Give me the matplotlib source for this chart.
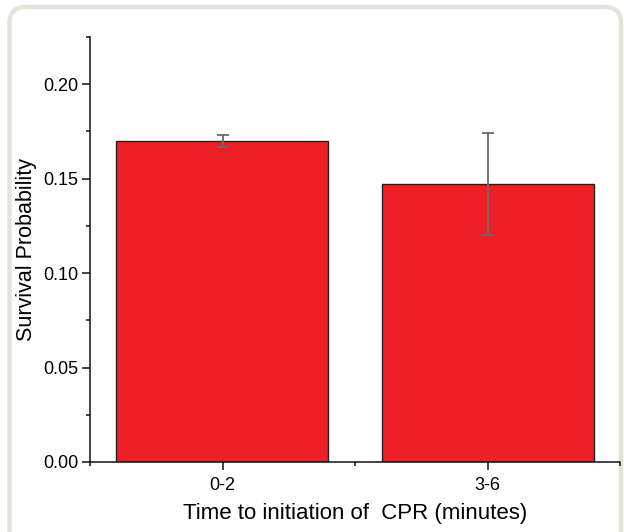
import matplotlib.pyplot as plt
from matplotlib.patches import FancyBboxPatch
from matplotlib.ticker import MultipleLocator

plt.rcParams['font.family'] = ['Liberation Sans', 'DejaVu Sans']

categories = ['0-2', '3-6']
survival = [0.170, 0.147]
errors = [0.003, 0.027]

fig = plt.figure(figsize=(6.24, 5.32), dpi=100)

# card frame behind the plot, drawn in pixel units
bg = fig.add_axes([0, 0, 1, 1], zorder=-1)
bg.set_xlim(0, 624)
bg.set_ylim(532, 0)
bg.axis('off')
card = FancyBboxPatch((9.5, 7), 611.5, 560, boxstyle='round,pad=0,rounding_size=16',
                      facecolor='white', edgecolor='#e6e3dc', linewidth=3.2)
bg.add_patch(card)

ax = fig.add_axes([90 / 624, 1 - 462 / 532, 530 / 624, 425 / 532])
ax.patch.set_alpha(0)
x = [1, 2]
ax.bar(x, survival, width=0.8, color='#ee1f25', edgecolor='#222222', linewidth=1)
ax.errorbar(x, survival, yerr=errors, fmt='none', ecolor='#6a6a6a',
            elinewidth=1.3, capsize=4.5, capthick=1.3)

ax.set_xlim(0.5, 2.5)
ax.set_ylim(0, 0.225)
ax.set_xticks(x)
ax.set_xticklabels(categories)
ax.xaxis.set_minor_locator(MultipleLocator(0.5))
ax.set_yticks([0.00, 0.05, 0.10, 0.15, 0.20])
ax.set_yticklabels(['0.00', '0.05', '0.10', '0.15', '0.20'])
ax.yaxis.set_minor_locator(MultipleLocator(0.025))

for side in ['top', 'right']:
    ax.spines[side].set_visible(False)
for side in ['left', 'bottom']:
    ax.spines[side].set_linewidth(1.1)
    ax.spines[side].set_color('#111111')

ax.tick_params(which='major', direction='out', length=5.5, width=1.1, labelsize=13,
               color='#111111', pad=5)
ax.tick_params(which='minor', direction='out', length=3, width=1.1, color='#111111')
ax.tick_params(axis='y', which='both', pad=3)

ax.set_xlabel('Time to initiation of  CPR (minutes)', fontsize=16, labelpad=7)
ax.set_ylabel('Survival Probability', fontsize=15.5, labelpad=4)

plt.savefig('out.png', dpi=100)
